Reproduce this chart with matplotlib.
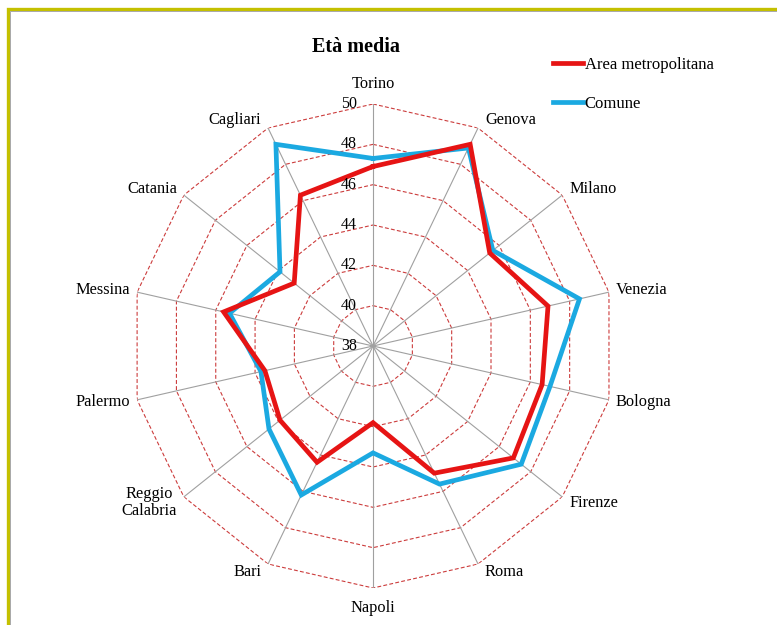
import numpy as np
import matplotlib
matplotlib.use("Agg")
import matplotlib.pyplot as plt
from matplotlib.lines import Line2D
from matplotlib.patches import Rectangle

plt.rcParams['font.family'] = ['Liberation Serif', 'DejaVu Serif']

# data
categories = ['Torino', 'Genova', 'Milano', 'Venezia', 'Bologna', 'Firenze', 'Roma',
              'Napoli', 'Bari', 'Reggio\nCalabria', 'Palermo', 'Messina', 'Catania', 'Cagliari']
area_metro = [46.9, 49.1, 45.4, 46.9, 46.6, 46.9, 45.0, 41.8, 44.4, 43.9, 43.5, 45.6, 43.0, 46.3]
comune = [47.3, 48.9, 45.6, 48.5, 47.0, 47.4, 45.6, 43.3, 46.2, 44.6, 43.7, 45.3, 43.9, 49.1]
ring_values = [40, 42, 44, 46, 48, 50]
tick_values = [38, 40, 42, 44, 46, 48, 50]
series_names = ['Area metropolitana', 'Comune']

RED = '#E61414'
BLUE = '#1BA9E1'

n = len(categories)
theta = np.arange(n) * 2 * np.pi / n
theta_c = np.append(theta, theta[0])

fig = plt.figure(figsize=(7.77, 6.25), dpi=100)
ax = fig.add_axes([0.1686, 0.0592, 0.623, 0.7744], projection='polar')
ax.set_theta_zero_location('N')
ax.set_theta_direction(-1)
ax.set_ylim(38, 50)
ax.grid(False)
ax.set_xticks([])
ax.set_yticks([])
ax.spines['polar'].set_visible(False)
ax.patch.set_alpha(0)

# polygon rings and spokes
for v in ring_values:
    ax.plot(theta_c, [v] * (n + 1), color='#CC3C3C', lw=0.8, ls=(0, (3.5, 2)), zorder=1)
for t in theta:
    ax.plot([t, t], [38, 50], color='#A0A0A0', lw=0.8, zorder=1)

# series (blue underneath red)
ax.plot(theta_c, comune + comune[:1], color=BLUE, lw=3.4, zorder=3, solid_joinstyle='miter')
ax.plot(theta_c, area_metro + area_metro[:1], color=RED, lw=3.4, zorder=4, solid_joinstyle='miter')

# radial tick labels
for v in tick_values:
    ax.annotate(str(v), xy=(0, v), xytext=(-11.5, 0), textcoords='offset points',
                ha='right', va='center', fontsize=11.5, zorder=5)

# category labels
for t, lab in zip(theta, categories):
    s, c = np.sin(t), np.cos(t)
    if abs(s) < 1e-6:
        ha = 'center'
        off = (0, 14.5 * np.sign(c))
    else:
        ha = 'left' if s > 0 else 'right'
        off = (5 * np.sign(s), 6.5 * c)
    ax.annotate(lab, xy=(t, 50), xytext=off, textcoords='offset points',
                ha=ha, va='center', multialignment='center', fontsize=11.8,
                linespacing=1.1)

fig.text(0.458, 0.925, 'Età media', ha='center', va='center', fontsize=14.5, fontweight='bold')

handles = [Line2D([], [], color=RED, lw=3.4), Line2D([], [], color=BLUE, lw=3.4)]
fig.legend(handles, series_names, loc='upper left', bbox_to_anchor=(553 / 777, 1 - 57 / 625),
           frameon=False, fontsize=12, handlelength=1.8, handletextpad=0.1,
           labelspacing=1.35, borderpad=0, borderaxespad=0)

# gold frame on left/top edge
fig.patches.append(Rectangle((8 / 777, -0.1), 1.2, 1.1 - 9 / 625, transform=fig.transFigure,
                             fill=False, edgecolor='#C4C000', lw=2.4, zorder=0))
fig.patches.append(Rectangle((10 / 777, -0.1), 1.2, 1.1 - 11 / 625, transform=fig.transFigure,
                             fill=False, edgecolor='#A8A8A8', lw=0.7, zorder=0))

fig.savefig('out.png', dpi=100)
